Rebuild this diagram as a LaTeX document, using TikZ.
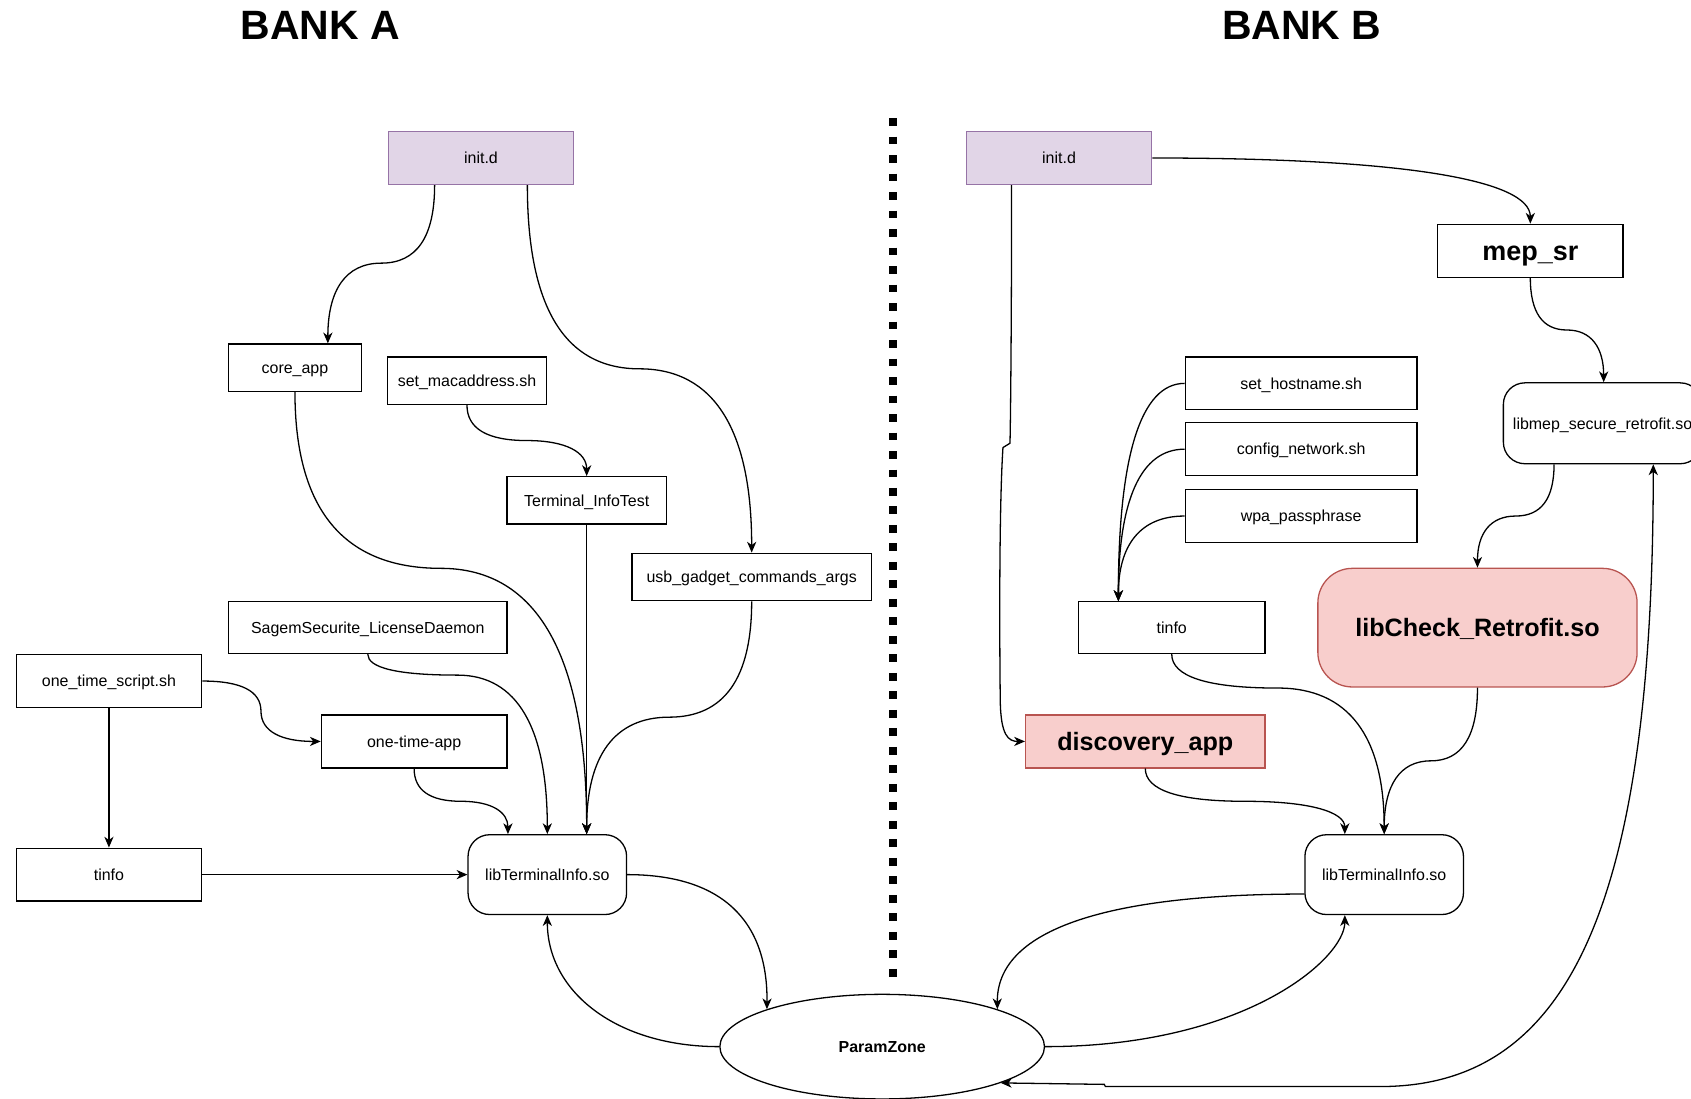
\documentclass[tikz,border=0pt]{standalone}
\usepackage{fontspec}
\setmainfont{Liberation Sans}
\usetikzlibrary{arrows.meta,shapes.geometric}
\definecolor{lavfill}{HTML}{E1D5E7}
\definecolor{lavline}{HTML}{9673A6}
\definecolor{redfill}{HTML}{F8CECC}
\definecolor{redline}{HTML}{B85450}

\begin{document}
\begin{tikzpicture}[x=1pt,y=-1pt,
  every node/.style={font=\fontsize{14.8}{17}\selectfont, inner sep=0pt, align=center,
                     text height=10.6pt, text depth=0pt},
  plainbox/.style={draw=black, line width=1.2pt, rectangle},
  initbox/.style={plainbox, draw=lavline, fill=lavfill},
  libbox/.style={plainbox, rounded corners=20pt},
  alertbox/.style={draw=redline, fill=redfill, font=\bfseries\fontsize{23.3}{26}\selectfont,
                   text height=16.7pt},
  banktitle/.style={font=\bfseries\fontsize{38}{42}\selectfont, text height=27.2pt},
  link/.style={line width=1.2pt, -{Stealth[length=10pt,width=8.5pt,inset=3pt]}},
  twoway/.style={line width=1.2pt, {Stealth[length=10pt,width=8.5pt,inset=3pt]}-{Stealth[length=10pt,width=8.5pt,inset=3pt]}},
  divider/.style={line width=8pt, dash pattern=on 7.1pt off 10.05pt}
]
\useasboundingbox (0,0) rectangle (1568,1019);

% ---------- titles ----------
\node[banktitle] (ttlA) at (297,23) {BANK A};
\node[banktitle] (ttlB) at (1207,23) {BANK B};

% ---------- separator between the banks ----------
\coordinate (sepTop) at (828,109.5);
\coordinate (sepBot) at (828,908);
\draw[divider] (sepTop) -- (sepBot);

% ---------- bank A ----------
\node[initbox, minimum width=172pt, minimum height=49pt] (initA) at (446,146.5) {init.d};
\node[plainbox, minimum width=123pt, minimum height=44pt] (coreapp) at (273.5,341) {core\_app};
\node[plainbox, minimum width=148pt, minimum height=44pt] (setmac) at (433,353) {set\_macaddress.sh};
\node[plainbox, minimum width=148pt, minimum height=44pt] (tinfotest) at (544,464) {Terminal\_InfoTest};
\node[plainbox, minimum width=222pt, minimum height=44pt] (usbargs) at (697,535) {usb\_gadget\_commands\_args};
\node[plainbox, minimum width=258pt, minimum height=48pt] (license) at (341,582) {SagemSecurite\_LicenseDaemon};
\node[plainbox, minimum width=172pt, minimum height=49pt] (otscript) at (101,631.5) {one\_time\_script.sh};
\node[plainbox, minimum width=172pt, minimum height=49pt] (otapp) at (384,687.5) {one-time-app};
\node[plainbox, minimum width=172pt, minimum height=49pt] (tinfoA) at (101,811) {tinfo};
\node[libbox, minimum width=147pt, minimum height=74pt] (libtiA) at (507.5,811) {libTerminalInfo.so};

% ---------- shared parameter zone ----------
\node[ellipse, draw, line width=1.2pt, minimum width=301pt, minimum height=97pt,
      font=\bfseries\fontsize{14.8}{17}\selectfont] (pz) at (818,970.5) {ParamZone};

% ---------- bank B ----------
\node[initbox, minimum width=172pt, minimum height=49pt] (initB) at (982,146.5) {init.d};
\node[plainbox, minimum width=172pt, minimum height=49pt, font=\bfseries\fontsize{25}{28}\selectfont,
      text height=17.9pt] (mepsr) at (1419,232.5) {mep\_sr};
\node[plainbox, minimum width=215pt, minimum height=49pt] (hostname) at (1206.5,355.5) {set\_hostname.sh};
\node[plainbox, minimum width=215pt, minimum height=49pt] (netcfg) at (1206.5,416.5) {config\_network.sh};
\node[plainbox, minimum width=215pt, minimum height=49pt] (wpa) at (1206.5,478.5) {wpa\_passphrase};
\node[libbox, minimum width=184pt, minimum height=75pt] (libmep) at (1486,392.5) {libmep\_secure\_retrofit.so};
\node[plainbox, minimum width=173pt, minimum height=48pt] (tinfoB) at (1086.5,582) {tinfo};
\node[libbox, alertbox, rounded corners=32pt, minimum width=296pt, minimum height=110pt] (libcheck) at (1370,582) {libCheck\_Retrofit.so};
\node[plainbox, alertbox, minimum width=222pt, minimum height=49pt] (discovery) at (1062,687.5) {discovery\_app};
\node[libbox, minimum width=147pt, minimum height=74pt] (libtiB) at (1283.5,811) {libTerminalInfo.so};

% ---------- bank A connectors ----------
\draw[link] ([xshift=-43pt]initA.south) .. controls (403,219.7) and (386.5,244) .. (353.5,244)
  .. controls (320.5,244) and (304,269) .. ([xshift=30.5pt]coreapp.north);
\draw[link] ([xshift=43pt]initA.south) .. controls (489,285) and (523.7,342) .. (593,342)
  .. controls (662.3,342) and (697,399) .. (usbargs.north);
\draw[link] (coreapp.south) .. controls (273.5,472.3) and (318.6,527) .. (408.75,527)
  .. controls (498.9,527) and (544,609.3) .. ([xshift=36.5pt]libtiA.north);
\draw[link] (setmac.south) .. controls (433,397.3) and (451.5,408.5) .. (488.5,408.5)
  .. controls (525.5,408.5) and (544,419.7) .. (tinfotest.north);
\draw[link] (tinfotest.south) -- ([xshift=36.5pt]libtiA.north);
\draw[link] (usbargs.south) .. controls (697,629) and (671.5,665) .. (620.5,665)
  .. controls (569.5,665) and (544,701.3) .. ([xshift=36.5pt]libtiA.north);
\draw[link] (license.south) .. controls (341,619.3) and (368.75,626) .. (424.25,626)
  .. controls (479.75,626) and (507.5,675.3) .. (libtiA.north);
\draw[link] (otscript.east) .. controls (223.7,631.5) and (242,640.8) .. (242,659.5)
  .. controls (242,678.2) and (260.7,687.5) .. (otapp.west);
\draw[link] (otscript.south) -- (tinfoA.north);
\draw[link] (otapp.south) .. controls (384,732.7) and (398.5,743) .. (427.5,743)
  .. controls (456.5,743) and (471,753.3) .. ([xshift=-36.5pt]libtiA.north);
\draw[link] (tinfoA.east) -- (libtiA.west);
\draw[link] (libtiA.east) .. controls (668.3,811) and (712,852.7) .. (pz.162);
\draw[link] (pz.west) .. controls (572,970.5) and (507.5,920) .. (libtiA.south);

% ---------- bank B connectors ----------
\draw[link] (initB.east) .. controls (1302,146.5) and (1419,167) .. (mepsr.north);
\draw[link] ([xshift=-44pt]initB.south) .. controls (938,300) and (937,395) .. (936.5,411) -- (930,415)
  .. controls (927,460) and (926.5,560) .. (927.5,650) .. controls (928,682) and (935,687.5) .. (discovery.west);
\draw[link] (mepsr.south) .. controls (1419,289.7) and (1430.3,306) .. (1453,306)
  .. controls (1475.7,306) and (1487,322.7) .. ([xshift=1pt]libmep.north);
\draw[link] ([xshift=-45pt]libmep.south) .. controls (1441,462.3) and (1429.2,478.5) .. (1405.5,478.5)
  .. controls (1381.8,478.5) and (1370,494.7) .. (libcheck.north);
\draw[link] (hostname.west) .. controls (1057.7,355.5) and (1037,423) .. ([xshift=-49.5pt]tinfoB.north);
\draw[link] (netcfg.west) .. controls (1057.7,416.5) and (1037,463.7) .. ([xshift=-49.5pt]tinfoB.north);
\draw[link] (wpa.west) .. controls (1057.7,478.5) and (1037,505) .. ([xshift=-49.5pt]tinfoB.north);
\draw[link] (tinfoB.south) .. controls (1086.5,627.3) and (1119.3,638) .. (1185,638)
  .. controls (1250.7,638) and (1283.5,683.3) .. (libtiB.north);
\draw[link] (libcheck.south) .. controls (1370,682.7) and (1355.6,705.5) .. (1326.75,705.5)
  .. controls (1297.9,705.5) and (1283.5,728.3) .. (libtiB.north);
\draw[link] (discovery.south) .. controls (1062,732.7) and (1092.8,743) .. (1154.5,743)
  .. controls (1216.2,743) and (1247,753.3) .. ([xshift=-36.5pt]libtiB.north);
\draw[link] ([yshift=-18pt]libtiB.west) .. controls (1019.3,829) and (924,864.3) .. (pz.18);
\draw[link] (pz.east) .. controls (1154.3,970.5) and (1247,889) .. ([xshift=-36.5pt]libtiB.south);
\draw[twoway] (pz.-17.8) -- (1024,1005.5) -- (1025,1007.5) -- (1280,1007.5)
  .. controls (1450,1007.5) and (1533,850) .. ([xshift=47pt]libmep.south);
\end{tikzpicture}
\end{document}
